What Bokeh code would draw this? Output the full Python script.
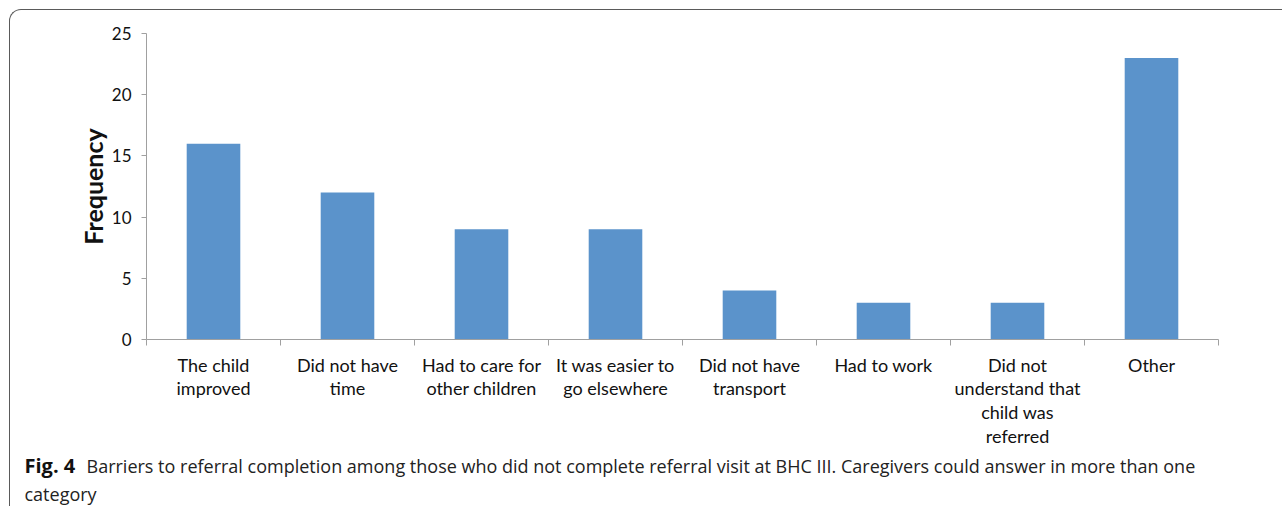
from bokeh.plotting import figure
from bokeh.layouts import column
from bokeh.models import Range1d, FixedTicker, Label
from bokeh.embed import file_html
from bokeh.resources import INLINE

categories = [
    "The child\nimproved",
    "Did not have\ntime",
    "Had to care for\nother children",
    "It was easier to\ngo elsewhere",
    "Did not have\ntransport",
    "Had to work",
    "Did not\nunderstand that\nchild was\nreferred",
    "Other",
]
frequency = [16, 12, 9, 9, 4, 3, 3, 23]
y_ticks = [0, 5, 10, 15, 20, 25]
caption_bold = "Fig. 4"
caption_line1 = ("Barriers to referral completion among those who did not complete "
                 "referral visit at BHC III. Caregivers could answer in more than one")
caption_line2 = "category"

n = len(categories)
centers = [i + 0.5 for i in range(n)]

PAGE_W, PAGE_H = 1282, 508
OX, OY = 10, 10                       # top-left corner of the bordered panel
W = PAGE_W - OX
H1 = 442                              # chart part height
H2 = PAGE_H - OY - H1 - 2             # caption part height
FL, FR, FT, FB = 146, 1218, 33, 339   # frame edges on the page

p = figure(width=W, height=H1, output_backend="svg", toolbar_location=None,
           x_range=Range1d(0, n), y_range=Range1d(0, 25),
           min_border_left=FL - OX, min_border_right=PAGE_W - FR,
           min_border_top=FT - OY, min_border_bottom=H1 - (FB - OY))
p.frame_align = False
p.grid.visible = False
p.outline_line_color = None
p.background_fill_color = None
p.border_fill_color = None

p.vbar(x=centers, top=frequency, width=0.4, fill_color="#5B93CB", line_color=None)

axis_color = "#A0A0A0"
font = "Lato"

xa = p.xaxis[0]
xa.ticker = FixedTicker(ticks=centers, minor_ticks=list(range(n + 1)))
xa.major_label_overrides = {c: lab for c, lab in zip(centers, categories)}
xa.major_tick_out = 0
xa.major_tick_in = 0
xa.minor_tick_out = 6
xa.minor_tick_in = 0
xa.minor_tick_line_color = axis_color
xa.axis_line_color = axis_color
xa.major_label_text_font = font
xa.major_label_text_font_size = "18px"
xa.major_label_text_color = "#111111"
xa.major_label_text_line_height = 1.08
xa.major_label_standoff = 8

ya = p.yaxis[0]
ya.ticker = FixedTicker(ticks=y_ticks, minor_ticks=[])
ya.major_tick_out = 5
ya.major_tick_in = 0
ya.major_tick_line_color = axis_color
ya.axis_line_color = axis_color
ya.major_label_text_font = font
ya.major_label_text_font_size = "17px"
ya.major_label_text_color = "#111111"
ya.major_label_standoff = 10
ya.axis_label = "Frequency"
ya.axis_label_text_font = font
ya.axis_label_text_font_style = "bold"
ya.axis_label_text_font_size = "25px"
ya.axis_label_text_color = "#111111"
ya.axis_label_standoff = 1

# caption panel: frame covers the whole canvas, data units = page pixels
cap = figure(width=W, height=H2, output_backend="svg", toolbar_location=None,
             x_range=Range1d(OX, PAGE_W), y_range=Range1d(OY + H1 + H2, OY + H1),
             x_axis_type=None, y_axis_type=None,
             min_border=0, min_border_left=0, min_border_right=0,
             min_border_top=0, min_border_bottom=0)
cap.frame_align = False
cap.grid.visible = False
cap.outline_line_color = None
cap.background_fill_color = None
cap.border_fill_color = None

cap_font = "Open Sans"
cap.add_layout(Label(x=24, y=465, text=caption_bold, text_font=cap_font,
                     text_font_style="bold", text_font_size="20px",
                     text_baseline="middle", text_color="#111111"))
cap.add_layout(Label(x=86, y=465, text=caption_line1, text_font=cap_font,
                     text_font_size="18px", text_baseline="middle",
                     text_color="#222222"))
cap.add_layout(Label(x=24, y=493, text=caption_line2, text_font=cap_font,
                     text_font_size="18px", text_baseline="middle",
                     text_color="#222222"))

root = column(p, cap, spacing=0,
              styles={"margin-left": f"{OX - 1}px", "margin-top": f"{OY - 1}px",
                      "border-left": "1.3px solid #5a5a5a",
                      "border-top": "1.3px solid #5a5a5a",
                      "border-top-left-radius": "12px"})

open("out.html", "w").write(file_html(root, INLINE))
